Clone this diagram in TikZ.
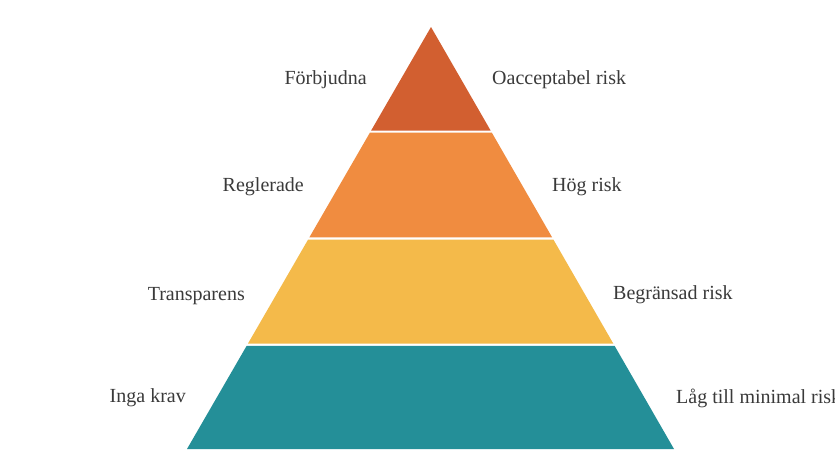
\documentclass[tikz,border=0pt]{standalone}
\usepackage{fontspec}
\setmainfont{Liberation Serif}
\usetikzlibrary{calc}
\definecolor{tierA}{RGB}{210,95,48}
\definecolor{tierB}{RGB}{240,140,64}
\definecolor{tierC}{RGB}{244,186,74}
\definecolor{tierD}{RGB}{36,143,152}
\definecolor{labelgray}{RGB}{58,58,58}
\tikzset{
  label text/.style={font=\fontsize{20}{24}\selectfont, text=labelgray, inner sep=0pt},
  left label/.style={label text, anchor=base east},
  right label/.style={label text, anchor=base west},
}
\begin{document}
\begin{tikzpicture}[x=1pt,y=-1pt]
  \fill[white] (0,0) rectangle (835,453);
  \clip (0,0) rectangle (835,453);
  \useasboundingbox (0,0) rectangle (835,453);
  % outline of the pyramid
  \coordinate (A) at (431,27);
  \coordinate (L) at (187,449);
  \coordinate (R) at (674,449);
  % four tiers, separated by thin white gaps
  \fill[tierA] (A) -- ($(A)!0.2457!(R)$) -- ($(A)!0.2457!(L)$) -- cycle;
  \fill[tierB] ($(A)!0.2505!(L)$) -- ($(A)!0.2505!(R)$) -- ($(A)!0.4983!(R)$) -- ($(A)!0.4983!(L)$) -- cycle;
  \fill[tierC] ($(A)!0.5036!(L)$) -- ($(A)!0.5036!(R)$) -- ($(A)!0.7500!(R)$) -- ($(A)!0.7500!(L)$) -- cycle;
  \fill[tierD] ($(A)!0.7555!(L)$) -- ($(A)!0.7555!(R)$) -- (R) -- (L) -- cycle;
  % labels on the left
  \node[left label] (forb) at (367,84) {Förbjudna};
  \node[left label] (regl) at (304,191) {Reglerade};
  \node[left label] (trans) at (245,300) {Transparens};
  \node[left label] (inga) at (186,402) {Inga krav};
  % labels on the right
  \node[right label] (oacc) at (492,84) {Oacceptabel risk};
  \node[right label] (hog) at (552,191) {Hög risk};
  \node[right label] (begr) at (613,299) {Begränsad risk};
  \node[right label] (lag) at (676,403) {Låg till minimal risk};
\end{tikzpicture}
\end{document}
